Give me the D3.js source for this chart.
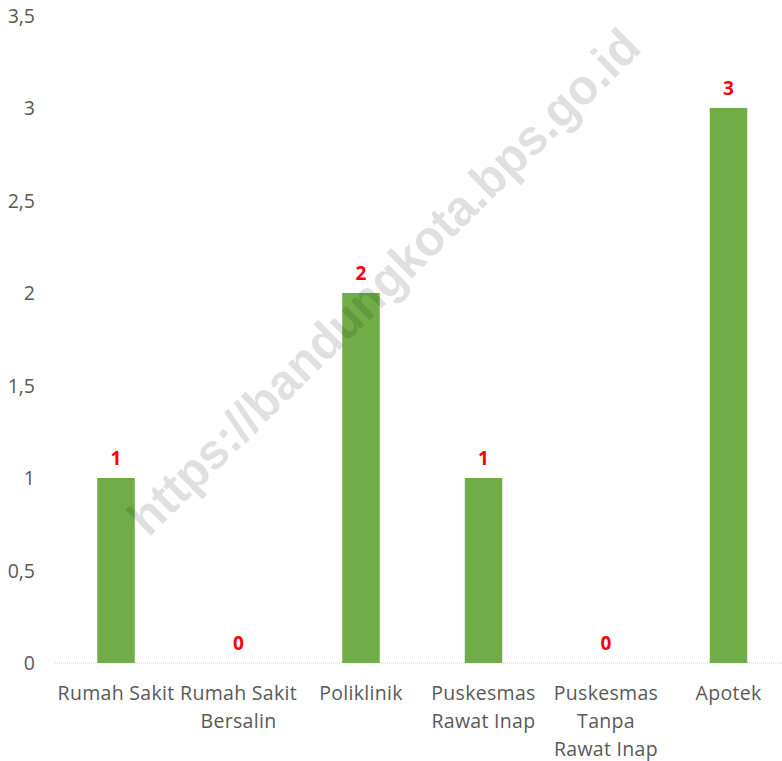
<!DOCTYPE html>
<html>
<head>
<meta charset="utf-8">
<script src="https://cdn.jsdelivr.net/npm/d3@7"></script>
<style>
  html, body { margin: 0; padding: 0; background: #fff; }
  svg { display: block; }
</style>
</head>
<body>
<svg id="chart" width="782" height="761"></svg>
<script>
const categories = ["Rumah Sakit", "Rumah Sakit Bersalin", "Poliklinik", "Puskesmas Rawat Inap", "Puskesmas Tanpa Rawat Inap", "Apotek"];
const categoryLines = [["Rumah Sakit"], ["Rumah Sakit", "Bersalin"], ["Poliklinik"], ["Puskesmas", "Rawat Inap"], ["Puskesmas", "Tanpa", "Rawat Inap"], ["Apotek"]];
const values = [1, 0, 2, 1, 0, 3];
const yTicks = [0, 0.5, 1, 1.5, 2, 2.5, 3, 3.5];
const watermark = "https://bandungkota.bps.go.id";

const svg = d3.select("#chart");
const W = 782, H = 761;

const x = d3.scaleBand().domain(categories).range([54.75, 789.75]).padding(0);
const y = d3.scaleLinear().domain([0, 3.5]).range([663, 15.5]);
const barW = x.bandwidth() * 0.306;
const fmt = d => String(d).replace(".", ",");

// y-axis labels
const yAxis = d3.axisLeft(y).tickValues(yTicks).tickSize(0).tickPadding(0).tickFormat(fmt);
const gy = svg.append("g").attr("transform", "translate(35,0)").call(yAxis);
gy.select(".domain").remove();
gy.selectAll("text")
  .attr("font-family", "'Open Sans', sans-serif")
  .attr("font-size", "19.5px")
  .attr("fill", "#595959")
  .attr("dy", "0.35em");

// baseline
svg.append("line")
  .attr("x1", 55).attr("x2", W)
  .attr("y1", y(0)).attr("y2", y(0))
  .attr("stroke", "#d0d0d0").attr("stroke-width", 1)
  .attr("stroke-dasharray", "1,1");

// bars
svg.append("g").selectAll("rect").data(values).join("rect")
  .attr("x", (d, i) => x(categories[i]) + x.bandwidth() / 2 - barW / 2)
  .attr("y", d => y(d))
  .attr("width", barW)
  .attr("height", d => y(0) - y(d))
  .attr("fill", "#70ad47");

// data labels
svg.append("g").selectAll("text").data(values).join("text")
  .attr("x", (d, i) => x(categories[i]) + x.bandwidth() / 2)
  .attr("y", d => y(d) - 13)
  .attr("text-anchor", "middle")
  .attr("font-family", "'Open Sans', sans-serif")
  .attr("font-weight", "bold")
  .attr("font-size", "19px")
  .attr("fill", "#ff0000")
  .text(d => d);

// category labels
const xg = svg.append("g");
categories.forEach((c, i) => {
  const t = xg.append("text")
    .attr("x", x(c) + x.bandwidth() / 2)
    .attr("y", 700)
    .attr("text-anchor", "middle")
    .attr("font-family", "'Open Sans', sans-serif")
    .attr("font-size", "19.5px")
    .attr("letter-spacing", "0.3px")
    .attr("fill", "#595959");
  categoryLines[i].forEach((ln, j) => {
    t.append("tspan")
      .attr("x", x(c) + x.bandwidth() / 2)
      .attr("y", 700 + j * 28)
      .text(ln);
  });
});

// watermark
svg.append("text")
  .attr("transform", "translate(396,294) rotate(-44.6)")
  .attr("text-anchor", "middle")
  .attr("font-family", "'Liberation Sans', Arial, sans-serif")
  .attr("font-weight", "bold")
  .attr("font-size", "50px")
  .attr("textLength", 695)
  .attr("lengthAdjust", "spacingAndGlyphs")
  .attr("x", 0).attr("y", 0)
  .attr("fill", "#000")
  .attr("fill-opacity", 0.12)
  .text(watermark);
</script>
</body>
</html>
